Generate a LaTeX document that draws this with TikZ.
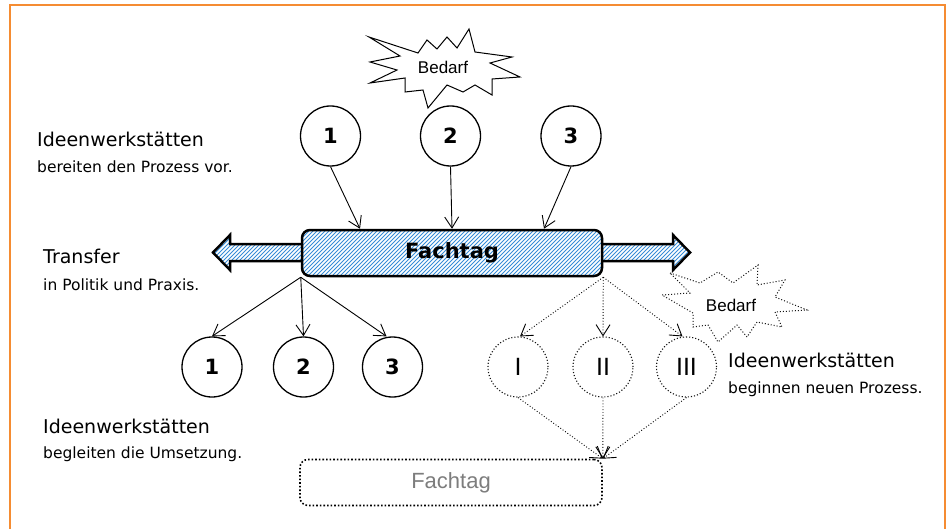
\documentclass[tikz,border=0pt]{standalone}
\usepackage{fontspec}
\setmainfont{DejaVu Sans}
\newfontfamily\helv{Liberation Sans}
\usetikzlibrary{arrows.meta}
\definecolor{frameorange}{RGB}{245,140,50}
\definecolor{hatchblue}{RGB}{55,140,215}
\definecolor{greytext}{RGB}{125,125,125}
\definecolor{dotgrey}{RGB}{20,20,20}
\begin{document}
\begin{tikzpicture}[x=1pt,y=-1pt,
  conn/.style={-{Straight Barb[length=11pt,width=14pt]},line width=0.9pt},
  dconn/.style={-{Straight Barb[length=11pt,width=14pt]},line width=0.9pt,dotted},
  circ/.style={circle,draw,line width=1.3pt,minimum size=60pt,inner sep=0pt,
    font=\fontsize{21}{21}\selectfont\bfseries},
  dcirc/.style={circle,draw=dotgrey,dotted,line width=1.1pt,minimum size=60pt,inner sep=0pt,
    font=\helv\fontsize{25}{25}\selectfont},
  big/.style={anchor=base west,inner sep=0pt,font=\fontsize{19}{19}\selectfont},
  small/.style={anchor=base west,inner sep=0pt,font=\fontsize{15.5}{15.5}\selectfont},
  hatchline/.style={hatchblue,line width=0.9pt},
  burst/.style={font=\helv\fontsize{17}{17}\selectfont,inner sep=0pt},
]
\useasboundingbox (0,0) rectangle (949,529);
\fill[white] (0,0) rectangle (949,529);
\draw[frameorange,line width=2pt] (10,529) -- (10,5) -- (945,5) -- (945,529);

% top starburst
\draw[line width=1pt,line join=miter,fill=white]
  (369,37) -- (418,53) -- (427,40) -- (437,49) -- (447,37) -- (457,48) -- (469,29)
  -- (475,52) -- (512,57) -- (490,63) -- (520,77) -- (492,79) -- (492,95)
  -- (475,85) -- (463,92) -- (447,85) -- (428,108) -- (423,90) -- (405,92)
  -- (405,78) -- (370,83) -- (397,70) -- (370,62) -- (400,56) -- cycle;
\node[burst] (bedarf1) at (443,67) {Bedarf};

% right starburst (dotted)
\draw[line width=1pt,dotted,draw=dotgrey]
  (670,273) -- (700,283) -- (718,272) -- (733,283) -- (758,265) -- (757,285)
  -- (785,280) -- (775,297) -- (807,310) -- (775,312) -- (782,327) -- (757,322)
  -- (747,337) -- (737,325) -- (718,342) -- (708,325) -- (693,327) -- (693,313)
  -- (662,295) -- (690,293) -- cycle;
\node[burst] (bedarf2) at (731,305) {Bedarf};

% hatching of arrows and box
\begin{scope}
  \clip (304,244) -- (230,244) -- (230,235) -- (213,252.5) -- (230,270) -- (230,261) -- (304,261) -- cycle
        (600,244) -- (673,244) -- (673,235) -- (690,252.5) -- (673,270) -- (673,261) -- (600,261) -- cycle
        [rounded corners=8pt] (302,230) rectangle (602,276);
  \foreach \x in {100,104,...,700} \draw[hatchline] (\x,300) -- ++(100,-100);
\end{scope}

% double arrow outlines
\draw[line width=2.5pt,line join=miter]
  (302,244) -- (230,244) -- (230,235) -- (213,252.5) -- (230,270) -- (230,261) -- (302,261);
\draw[line width=2.5pt,line join=miter]
  (602,244) -- (673,244) -- (673,235) -- (690,252.5) -- (673,270) -- (673,261) -- (602,261);

% main Fachtag
\node[draw,rounded corners=8pt,line width=2.5pt,minimum width=300pt,minimum height=46pt,
  font=\fontsize{21}{21}\selectfont\bfseries] (fachtag) at (452,253) {Fachtag};

% top circles
\node[circ] (t1) at (330.5,136) {1};
\node[circ] (t2) at (450.5,136) {2};
\node[circ] (t3) at (571,136) {3};
\draw[conn] (t1.south) -- ([xshift=-92pt]fachtag.north);
\draw[conn] (t2.south) -- (fachtag.north);
\draw[conn] (t3.south) -- ([xshift=92pt]fachtag.north);

% bottom solid circles
\node[circ] (b1) at (212,367) {1};
\node[circ] (b2) at (303.5,367) {2};
\node[circ] (b3) at (392.5,367) {3};
\draw[conn] (fachtag.south west) -- (b1.north);
\draw[conn] (fachtag.south west) -- (b2.north);
\draw[conn] (fachtag.south west) -- ([xshift=-6pt]b3.north);

% dotted circles
\node[dcirc] (d1) at (518,367) {I};
\node[dcirc] (d2) at (603,367) {II};
\node[dcirc] (d3) at (686.5,367) {III};
\draw[dconn] (fachtag.south east) -- ([xshift=2pt]d1.north);
\draw[dconn] (fachtag.south east) -- (d2.north);
\draw[dconn] (fachtag.south east) -- ([xshift=-4pt]d3.north);

% bottom dotted Fachtag
\node[draw,dotted,line width=1.6pt,rounded corners=8pt,minimum width=302pt,minimum height=46pt,
  text=greytext,font=\helv\fontsize{22}{22}\selectfont] (fb) at (451,482.5) {Fachtag};
\draw[dconn] (d1.south) -- (fb.north east);
\draw[dconn] (d2.south) -- (fb.north east);
\draw[dconn] (d3.south) -- (fb.north east);

% texts
\node[big] (l1a) at (37,147) {Ideenwerkstätten};
\node[small] (l1b) at (37,173) {bereiten den Prozess vor.};
\node[big] (l2a) at (43,263) {Transfer};
\node[small] (l2b) at (43,290) {in Politik und Praxis.};
\node[big] (l3a) at (43,433) {Ideenwerkstätten};
\node[small] (l3b) at (43,458) {begleiten die Umsetzung.};
\node[big] (l4a) at (728,367) {Ideenwerkstätten};
\node[small] (l4b) at (728,393) {beginnen neuen Prozess.};
\end{tikzpicture}
\end{document}
